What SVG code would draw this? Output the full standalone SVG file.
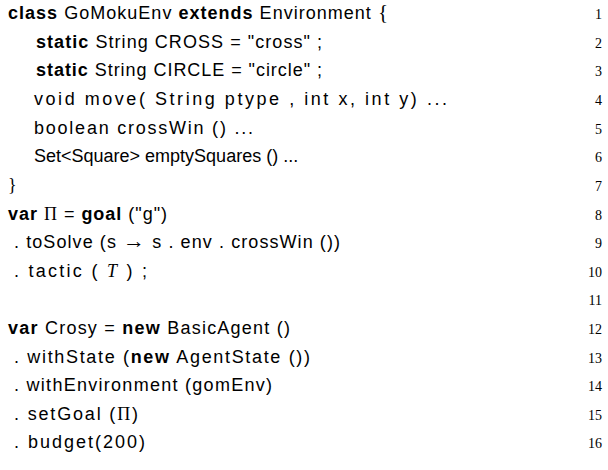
<svg xmlns="http://www.w3.org/2000/svg" width="608" height="470" viewBox="0 0 608 470">
<style>
.c{font-family:"Liberation Sans",Arial,sans-serif;font-size:18px;fill:#000}
.b{font-weight:bold}
.n{font-family:"Liberation Serif","Times New Roman",serif;font-size:14px;text-anchor:end;fill:#000}
.s{font-family:"Liberation Serif","Times New Roman",serif}
.i{font-family:"Liberation Serif","Times New Roman",serif;font-style:italic}
</style>
<rect width="608" height="470" fill="#fff"/>
<g id="code">
<text class="c" x="8" y="19" textLength="380" lengthAdjust="spacing"><tspan class="b">class</tspan> GoMokuEnv <tspan class="b">extends</tspan> Environment <tspan class="s" font-size="21">{</tspan></text>
<text class="c" x="36" y="48" textLength="286" lengthAdjust="spacing"><tspan class="b">static</tspan> String CROSS  = "cross" ;</text>
<text class="c" x="36" y="76" textLength="286" lengthAdjust="spacing"><tspan class="b">static</tspan> String CIRCLE = "circle" ;</text>
<text class="c" x="34" y="105" textLength="413" lengthAdjust="spacing">void move( String ptype , int x, int y) ...</text>
<text class="c" x="34" y="134" textLength="219" lengthAdjust="spacing">boolean crossWin () ...</text>
<text class="c" x="34" y="162" font-size="17">Set&lt;Square&gt; emptySquares () ...</text>
<text class="c s" x="8" y="191" font-size="21">}</text>
<text class="c" x="8" y="220" textLength="159" lengthAdjust="spacing"><tspan class="b">var</tspan> <tspan class="s">Π</tspan> = <tspan class="b">goal</tspan> ("g")</text>
<text class="c" x="14" y="248" textLength="326" lengthAdjust="spacing">. toSolve (s <tspan class="s" font-size="22">→</tspan> s . env . crossWin ())</text>
<text class="c" x="14" y="277" textLength="133" lengthAdjust="spacing">. tactic ( <tspan class="i">T</tspan> ) ;</text>
<text class="c" x="8" y="334" textLength="282" lengthAdjust="spacing"><tspan class="b">var</tspan> Crosy = <tspan class="b">new</tspan> BasicAgent ()</text>
<text class="c" x="14" y="363" textLength="296" lengthAdjust="spacing">. withState (<tspan class="b">new</tspan> AgentState ())</text>
<text class="c" x="14" y="391" textLength="258" lengthAdjust="spacing">. withEnvironment (gomEnv)</text>
<text class="c" x="14" y="420" textLength="124" lengthAdjust="spacing">. setGoal (<tspan class="s">Π</tspan>)</text>
<text class="c" x="14" y="448" textLength="131" lengthAdjust="spacing">. budget(200)</text>
</g>
<g id="linenumbers">
<text class="n" x="602" y="19">1</text>
<text class="n" x="602" y="48">2</text>
<text class="n" x="602" y="76">3</text>
<text class="n" x="602" y="105">4</text>
<text class="n" x="602" y="134">5</text>
<text class="n" x="602" y="162">6</text>
<text class="n" x="602" y="191">7</text>
<text class="n" x="602" y="220">8</text>
<text class="n" x="602" y="248">9</text>
<text class="n" x="602" y="277">10</text>
<text class="n" x="602" y="305">11</text>
<text class="n" x="602" y="334">12</text>
<text class="n" x="602" y="363">13</text>
<text class="n" x="602" y="391">14</text>
<text class="n" x="602" y="420">15</text>
<text class="n" x="602" y="448">16</text>
</g>
</svg>
